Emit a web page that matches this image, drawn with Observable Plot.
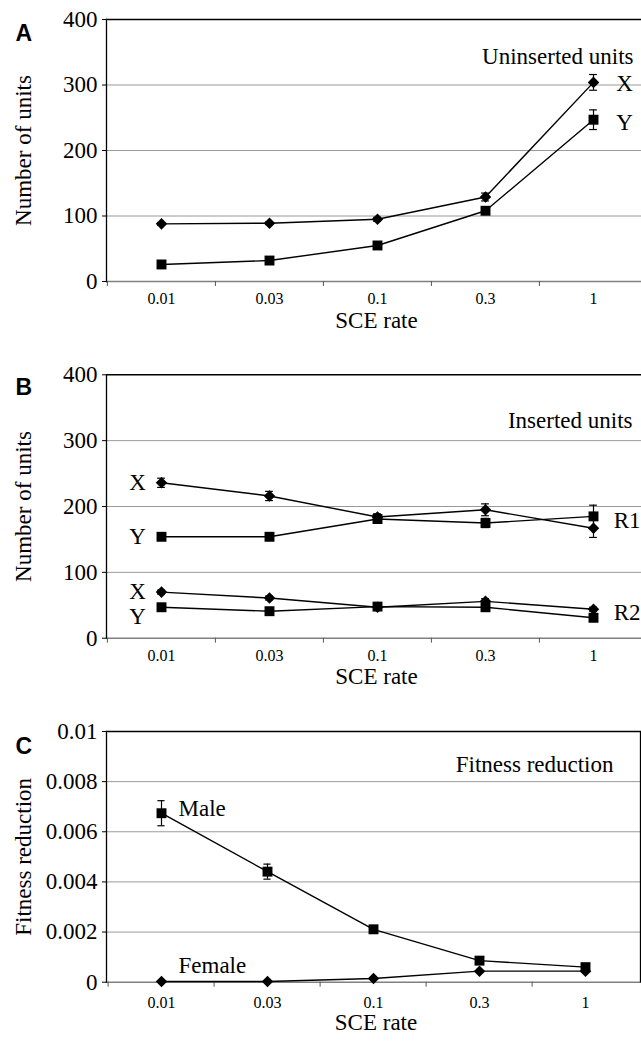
<!DOCTYPE html>
<html><head><meta charset="utf-8">
<script src="https://cdn.jsdelivr.net/npm/d3@7"></script>
<script src="https://cdn.jsdelivr.net/npm/@observablehq/plot@0.6"></script>
<style>
html,body{margin:0;padding:0;background:#fff;overflow:hidden}
#root{position:relative;width:641px;height:1041px;overflow:hidden;background:#fff}
.panel{position:absolute;left:0}
</style></head><body><div id="root"></div>
<script>
// Categories (SCE rate)
const rates = ["0.01", "0.03", "0.1", "0.3", "1"];

// Panel A: uninserted units
const uninsertedX = [88, 89, 95, 129, 304];
const uninsertedXErr = [2, 2, 3, 6, 12];
const uninsertedY = [26, 32, 55, 108, 247];
const uninsertedYErr = [2, 2, 3, 4, 15];

// Panel B: inserted units
const r1X = [236, 216, 184, 195, 167];
const r1XErr = [7, 7, 5, 9, 14];
const r1Y = [154, 154, 181, 175, 185];
const r1YErr = [3, 3, 6, 7, 17];
const r2X = [70, 61, 47, 56, 44];
const r2XErr = [3, 3, 3, 4, 3];
const r2Y = [47, 41, 48, 47, 31];
const r2YErr = [2, 2, 3, 3, 3];

// Panel C: fitness reduction
const male = [0.00674, 0.00441, 0.00211, 0.00086, 0.0006];
const maleErr = [0.0005, 0.0003, 0.0001, 0.00005, 0.00003];
const female = [0.00003, 0.00003, 0.00015, 0.00044, 0.00044];
const femaleErr = [0, 0, 0, 0, 0];

// Tick labels
const unitTicks = [0, 100, 200, 300, 400];
const fitnessTicks = [0, 0.002, 0.004, 0.006, 0.008, 0.01];

const SERIF = '"Liberation Serif", "Times New Roman", serif';
const SANS = '"Liberation Sans", Arial, sans-serif';

function series(values, errs, symbol) {
  return rates.map((rate, i) => ({rate, value: values[i], err: errs[i], symbol}));
}

function panel(cfg) {
  const bw = (cfg.xRange[1] - cfg.xRange[0]) / rates.length;
  const capInset = (bw - 8) / 2;
  const marks = [
    Plot.gridY(cfg.yTicks.slice(1, -1), {stroke: "#9a9a9a", strokeOpacity: 1, strokeWidth: 1}),
    Plot.ruleY([cfg.yTicks[cfg.yTicks.length - 1]], {stroke: "black", strokeWidth: 1.6}),
    Plot.ruleY([0], {stroke: "#808080", strokeWidth: 1.5}),
    Plot.frame({anchor: "left", stroke: "black", strokeWidth: 1.3}),
    Plot.axisY({ticks: cfg.yTicks, tickFormat: cfg.yTickFormat, tickSize: 4, tickPadding: 5,
      fontSize: 23, label: null, stroke: "black"}),
    Plot.axisX({tickSize: 5, dx: -bw / 2, tickFormat: () => "", label: null, stroke: "#555"}),
    Plot.axisX({tickSize: 0, tickPadding: cfg.tickPad, fontSize: 16, label: null}),
    Plot.text([cfg.yLabel], {frameAnchor: "left", textAnchor: "middle", dx: -83, rotate: -90, fontSize: 23}),
    Plot.text(["SCE rate"], {frameAnchor: "bottom", dx: 2.5, dy: cfg.xLabelDy, fontSize: 23}),
    Plot.text([cfg.letter], {frameAnchor: "top-left", dx: -91, dy: cfg.letterDy, textAnchor: "start",
      fontSize: 23, fontWeight: "bold"}),
    Plot.text([cfg.title], {frameAnchor: "top-right", dx: cfg.titleDx, dy: cfg.titleDy, textAnchor: "end",
      fontSize: 23})
  ];
  if (cfg.rightBorder) marks.push(Plot.frame({anchor: "right", stroke: "black", strokeWidth: 1.3}));
  for (const s of cfg.series) {
    const withErr = s.filter(d => d.err > 0);
    marks.push(
      Plot.line(s, {x: "rate", y: "value", stroke: "black", strokeWidth: 1.4}),
      Plot.ruleX(withErr, {x: "rate", y1: d => d.value - d.err, y2: d => d.value + d.err, stroke: "black", strokeWidth: 1.2}),
      Plot.tickY(withErr, {x: "rate", y: d => d.value + d.err, insetLeft: capInset, insetRight: capInset, stroke: "black", strokeWidth: 1.2}),
      Plot.tickY(withErr, {x: "rate", y: d => d.value - d.err, insetLeft: capInset, insetRight: capInset, stroke: "black", strokeWidth: 1.2}),
      Plot.dot(s, {x: "rate", y: "value", symbol: s[0].symbol, r: s[0].symbol === "square" ? 5.6 : 5.2,
        fill: "black", stroke: "none"})
    );
  }
  for (const l of cfg.labels) {
    marks.push(Plot.text([l.text], {x: () => l.rate, y: () => l.y, dx: l.dx, dy: l.dy || 0,
      textAnchor: l.anchor || "middle", fontSize: 23}));
  }
  const svg = Plot.plot({
    width: 641,
    height: cfg.height,
    marginTop: cfg.marginTop,
    marginBottom: cfg.marginBottom,
    marginLeft: 106,
    marginRight: cfg.rightBorder ? 1 : 0,
    x: {type: "band", domain: rates, range: cfg.xRange, padding: 0},
    y: {domain: [0, cfg.yTicks[cfg.yTicks.length - 1]]},
    style: {background: "white", color: "black"},
    marks
  });
  svg.classList.add("panel");
  svg.style.top = cfg.top + "px";
  svg.querySelectorAll("text").forEach(t => {
    const bold = t.closest('[font-weight="bold"]');
    t.style.fontFamily = bold ? SANS : SERIF;
  });
  document.getElementById("root").appendChild(svg);
}

panel({
  top: 0, height: 340, marginTop: 19, marginBottom: 59,
  xRange: [106, 647], yTicks: unitTicks, yTickFormat: d => String(d),
  tickPad: 11, xLabelDy: 46, letter: "A", letterDy: 5,
  yLabel: "Number of units", title: "Uninserted units", titleDx: -8, titleDy: 28,
  series: [series(uninsertedX, uninsertedXErr, "diamond2"), series(uninsertedY, uninsertedYErr, "square")],
  labels: [
    {text: "X", rate: rates[4], y: uninsertedX[4], dx: 31, dy: 1},
    {text: "Y", rate: rates[4], y: uninsertedY[4], dx: 31, dy: 3}
  ]
});

panel({
  top: 340, height: 350, marginTop: 34.3, marginBottom: 52.3,
  xRange: [106, 647], yTicks: unitTicks, yTickFormat: d => String(d),
  tickPad: 11, xLabelDy: 46, letter: "B", letterDy: 4,
  yLabel: "Number of units", title: "Inserted units", titleDx: -9, titleDy: 37,
  series: [series(r1X, r1XErr, "diamond2"), series(r1Y, r1YErr, "square"),
           series(r2X, r2XErr, "diamond2"), series(r2Y, r2YErr, "square")],
  labels: [
    {text: "X", rate: rates[0], y: r1X[0], dx: -24},
    {text: "Y", rate: rates[0], y: r1Y[0], dx: -24},
    {text: "X", rate: rates[0], y: r2X[0], dx: -24},
    {text: "Y", rate: rates[0], y: r2Y[0], dx: -24, dy: 9},
    {text: "R1", rate: rates[4], y: r1Y[4], dx: 47, dy: 4, anchor: "end"},
    {text: "R2", rate: rates[4], y: r2Y[4], dx: 47, dy: -5, anchor: "end"}
  ]
});

panel({
  top: 690, height: 351, marginTop: 41, marginBottom: 59.3,
  xRange: [106, 640], yTicks: fitnessTicks, yTickFormat: d => String(d),
  tickPad: 14, xLabelDy: 48, letter: "C", letterDy: 6, rightBorder: true,
  yLabel: "Fitness reduction", title: "Fitness reduction", titleDx: -27, titleDy: 24,
  series: [series(female, femaleErr, "diamond2"), series(male, maleErr, "square")],
  labels: [
    {text: "Male", rate: rates[0], y: male[0], dx: 17, dy: -5, anchor: "start"},
    {text: "Female", rate: rates[0], y: female[0], dx: 17, dy: -16, anchor: "start"}
  ]
});
</script></body></html>
